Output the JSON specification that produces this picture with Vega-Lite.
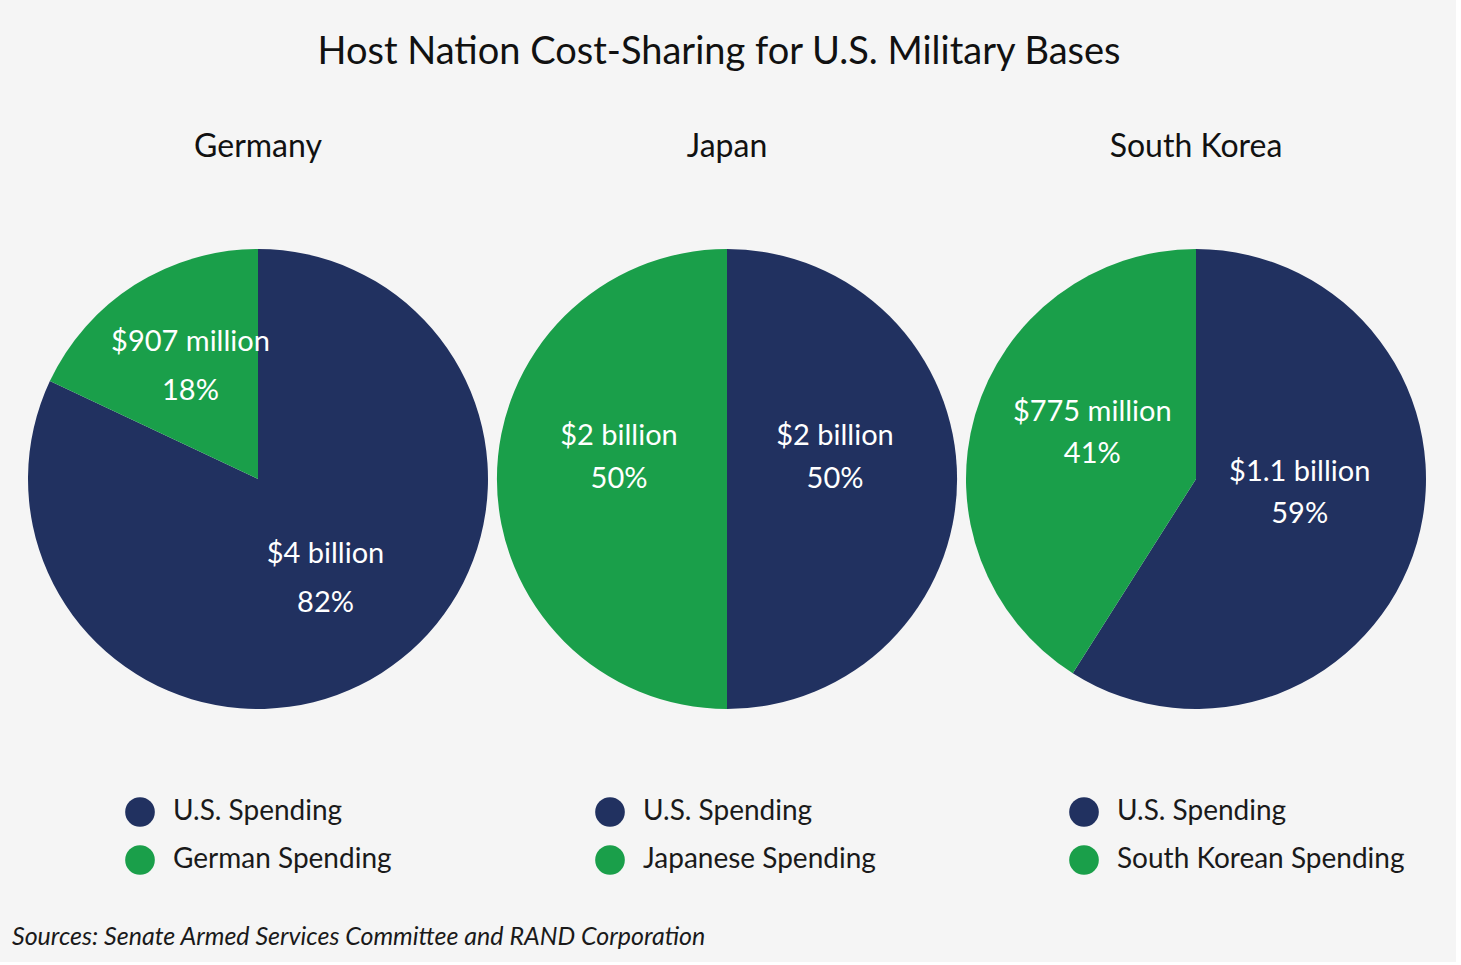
{
  "$schema": "https://vega.github.io/schema/vega-lite/v6.json",
  "background": "#f5f5f5",
  "padding": {"left": 12, "right": 30, "top": 34, "bottom": 12},
  "title": {"text": "Host Nation Cost-Sharing for U.S. Military Bases", "fontSize": 38, "font": "Lato", "fontWeight": "normal", "color": "#111111", "anchor": "middle", "offset": 59},
  "data": {"values": [
    {"country": "Germany", "who": "U.S. Spending", "share": 0.82, "amount": "$4 billion"},
    {"country": "Germany", "who": "German Spending", "share": 0.18, "amount": "$907 million"},
    {"country": "Japan", "who": "U.S. Spending", "share": 0.50, "amount": "$2 billion"},
    {"country": "Japan", "who": "Japanese Spending", "share": 0.50, "amount": "$2 billion"},
    {"country": "South Korea", "who": "U.S. Spending", "share": 0.59, "amount": "$1.1 billion"},
    {"country": "South Korea", "who": "South Korean Spending", "share": 0.41, "amount": "$775 million"}
  ]},
  "vconcat": [
    {
      "title": {"text": "Sources: Senate Armed Services Committee and RAND Corporation", "orient": "bottom", "anchor": "start", "fontSize": 25, "font": "Lato", "fontStyle": "italic", "fontWeight": "normal", "color": "#1a1a1a", "offset": 50, "dx": -16},
      "spacing": 9,
      "resolve": {"scale": {"color": "independent", "theta": "independent"}},
      "hconcat": [
        {
          "width": 460, "height": 590,
          "title": {"text": "Germany"},
          "transform": [{"filter": "datum.country === 'Germany'"}],
          "encoding": {
            "theta": {"field": "share", "type": "quantitative", "stack": true},
            "order": {"field": "who", "type": "nominal", "sort": "descending"}
          },
          "layer": [
            {"mark": {"type": "arc", "radius": 230},
             "encoding": {"color": {"field": "who", "type": "nominal", "scale": {"domain": ["U.S. Spending", "German Spending"], "range": ["#213160", "#1a9f4a"]}, "legend": {"orient": "none", "legendX": 97, "legendY": 613, "title": null}}}},
            {"mark": {"type": "text", "radius": 126, "dy": -31, "fill": "white", "fontSize": 29, "font": "Lato"},
             "encoding": {"text": {"field": "amount", "type": "nominal"}, "detail": {"field": "who", "type": "nominal"}}},
            {"mark": {"type": "text", "radius": 126, "dy": 18, "fill": "white", "fontSize": 29, "font": "Lato"},
             "encoding": {"text": {"field": "share", "type": "quantitative", "format": ".0%"}, "detail": {"field": "who", "type": "nominal"}}}
          ]
        },
        {
          "width": 460, "height": 590,
          "title": {"text": "Japan"},
          "transform": [{"filter": "datum.country === 'Japan'"}],
          "encoding": {
            "theta": {"field": "share", "type": "quantitative", "stack": true},
            "order": {"field": "who", "type": "nominal", "sort": "descending"}
          },
          "layer": [
            {"mark": {"type": "arc", "radius": 230},
             "encoding": {"color": {"field": "who", "type": "nominal", "scale": {"domain": ["U.S. Spending", "Japanese Spending"], "range": ["#213160", "#1a9f4a"]}, "legend": {"orient": "none", "legendX": 98, "legendY": 613, "title": null}}}},
            {"mark": {"type": "text", "radius": 108, "dy": -43, "fill": "white", "fontSize": 29, "font": "Lato"},
             "encoding": {"text": {"field": "amount", "type": "nominal"}, "detail": {"field": "who", "type": "nominal"}}},
            {"mark": {"type": "text", "radius": 108, "dy": 0, "fill": "white", "fontSize": 29, "font": "Lato"},
             "encoding": {"text": {"field": "share", "type": "quantitative", "format": ".0%"}, "detail": {"field": "who", "type": "nominal"}}}
          ]
        },
        {
          "width": 460, "height": 590,
          "title": {"text": "South Korea"},
          "transform": [{"filter": "datum.country === 'South Korea'"}],
          "encoding": {
            "theta": {"field": "share", "type": "quantitative", "stack": true},
            "order": {"field": "who", "type": "nominal", "sort": "descending"}
          },
          "layer": [
            {"mark": {"type": "arc", "radius": 230},
             "encoding": {"color": {"field": "who", "type": "nominal", "scale": {"domain": ["U.S. Spending", "South Korean Spending"], "range": ["#213160", "#1a9f4a"]}, "legend": {"orient": "none", "legendX": 103, "legendY": 613, "title": null}}}},
            {"mark": {"type": "text", "radius": 108, "dy": -37, "fill": "white", "fontSize": 29, "font": "Lato"},
             "encoding": {"text": {"field": "amount", "type": "nominal"}, "detail": {"field": "who", "type": "nominal"}}},
            {"mark": {"type": "text", "radius": 108, "dy": 5, "fill": "white", "fontSize": 29, "font": "Lato"},
             "encoding": {"text": {"field": "share", "type": "quantitative", "format": ".0%"}, "detail": {"field": "who", "type": "nominal"}}}
          ]
        }
      ]
    }
  ],
  "config": {
    "view": {"stroke": null},
    "title": {"fontSize": 32, "font": "Lato", "fontWeight": "normal", "color": "#111111", "offset": 20},
    "legend": {"symbolType": "circle", "symbolSize": 880, "symbolOpacity": 1, "symbolStrokeWidth": 0, "labelFontSize": 28, "labelFont": "Lato", "labelColor": "#1a1a1a", "labelOffset": 18, "rowPadding": 18, "labelLimit": 400}
  }
}
